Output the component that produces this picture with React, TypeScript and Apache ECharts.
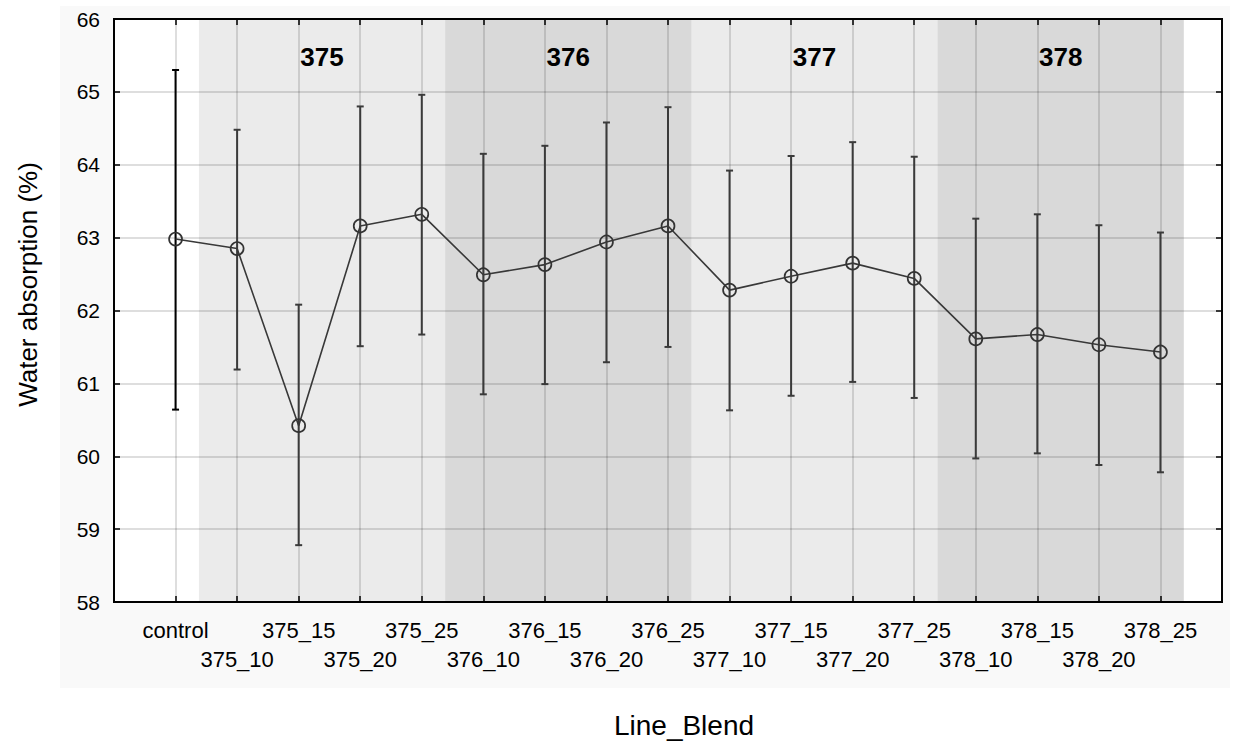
import React, { useEffect, useRef } from "react";
import * as echarts from "echarts";

// Line_Blend treatments and their water absorption (%) means with interval bounds
const categories = [
  "control",
  "375_10", "375_15", "375_20", "375_25",
  "376_10", "376_15", "376_20", "376_25",
  "377_10", "377_15", "377_20", "377_25",
  "378_10", "378_15", "378_20", "378_25",
];
const means = [
  62.98,
  62.85, 60.42, 63.16, 63.32,
  62.49, 62.63, 62.94, 63.16,
  62.28, 62.47, 62.65, 62.44,
  61.61, 61.67, 61.53, 61.43,
];
const lower = [
  60.64,
  61.19, 58.78, 61.51, 61.67,
  60.85, 60.99, 61.29, 61.50,
  60.63, 60.83, 61.02, 60.80,
  59.97, 60.04, 59.88, 59.78,
];
const upper = [
  65.30,
  64.48, 62.08, 64.80, 64.96,
  64.15, 64.26, 64.58, 64.79,
  63.92, 64.12, 64.31, 64.11,
  63.26, 63.32, 63.17, 63.07,
];
// Line groups shaded behind the points: [label, first index, last index]
const groups: [string, number, number][] = [
  ["375", 1, 4],
  ["376", 5, 8],
  ["377", 9, 12],
  ["378", 13, 16],
];
const yTicks = { min: 58, max: 66, step: 1 };

const FONT = "'Liberation Sans', Arial, sans-serif";

export default function App() {
  const ref = useRef<HTMLDivElement>(null);

  useEffect(() => {
    if (!ref.current) return;
    const chart = echarts.init(ref.current, null, { renderer: "svg" });

    const bandShift = 0.62;
    const markAreaData = groups.map(([name, a, b], gi) => [
      {
        name,
        xAxis: a - bandShift,
        itemStyle: { color: gi % 2 === 0 ? "rgba(0,0,0,0.08)" : "rgba(0,0,0,0.15)" },
      },
      { xAxis: b + 1 - bandShift },
    ]);

    const xLabel = (v: number) => {
      const i = Math.round(v);
      if (i < 0 || i >= categories.length) return "";
      return i % 2 === 0 ? categories[i] : "\n" + categories[i];
    };

    const tickStyle = { show: true, inside: true, length: 6, lineStyle: { color: "#000", width: 1.5 } };
    const noLine = { show: false, onZero: false };

    chart.setOption({
      animation: false,
      backgroundColor: "#ffffff",
      graphic: [
        {
          type: "rect",
          z: -10,
          shape: { x: 60, y: 6, width: 1170, height: 682 },
          style: { fill: "#f9f9f9" },
        },
      ],
      grid: {
        left: 114,
        top: 19,
        width: 1108,
        height: 584,
        show: true,
        backgroundColor: "#ffffff",
        borderColor: "#000",
        borderWidth: 2,
      },
      xAxis: [
        {
          type: "value",
          min: -1,
          max: categories.length,
          interval: 1,
          position: "bottom",
          axisLine: noLine,
          axisTick: tickStyle,
          splitLine: { show: true, lineStyle: { color: "rgba(0,0,0,0.13)", width: 2 } },
          axisLabel: {
            formatter: xLabel,
            color: "#000",
            fontFamily: FONT,
            fontSize: 22,
            lineHeight: 29,
            margin: 14,
          },
          name: "Line_Blend",
          nameLocation: "middle",
          nameGap: 109,
          nameTextStyle: { color: "#000", fontFamily: FONT, fontSize: 28, padding: [0, 0, 0, 32] },
        },
        {
          type: "value",
          min: -1,
          max: categories.length,
          interval: 1,
          position: "top",
          axisLine: noLine,
          axisTick: tickStyle,
          axisLabel: { show: false },
          splitLine: { show: false },
        },
      ],
      yAxis: [
        {
          type: "value",
          min: yTicks.min,
          max: yTicks.max,
          interval: yTicks.step,
          position: "left",
          axisLine: noLine,
          axisTick: tickStyle,
          splitLine: { show: true, lineStyle: { color: "rgba(0,0,0,0.13)", width: 2 } },
          axisLabel: { color: "#000", fontFamily: FONT, fontSize: 21, margin: 14 },
          name: "Water absorption (%)",
          nameLocation: "middle",
          nameGap: 73,
          nameTextStyle: { color: "#000", fontFamily: FONT, fontSize: 26, padding: [0, 0, 0, 52] },
        },
        {
          type: "value",
          min: yTicks.min,
          max: yTicks.max,
          interval: yTicks.step,
          position: "right",
          axisLine: noLine,
          axisTick: tickStyle,
          axisLabel: { show: false },
          splitLine: { show: false },
        },
      ],
      series: [
        {
          // shaded group bands with their titles
          type: "line",
          z: 1,
          data: [],
          silent: true,
          markArea: {
            silent: true,
            label: {
              show: true,
              position: ["50%", 38],
              align: "center",
              verticalAlign: "middle",
              color: "#000",
              fontFamily: FONT,
              fontWeight: "bold",
              fontSize: 26,
            },
            data: markAreaData,
          },
        },
        {
          // vertical interval bars with caps
          type: "custom",
          z: 3,
          data: means.map((_, i) => [i, lower[i], upper[i]]),
          encode: { x: 0, y: [1, 2] },
          renderItem: (_params: any, api: any) => {
            const x = api.value(0);
            const top = api.coord([x, api.value(2)]);
            const bot = api.coord([x, api.value(1)]);
            const stroke = x === 0 ? "#000" : "#3a3a3a";
            const capHalf = 3.5;
            const style = { stroke, lineWidth: 2 };
            return {
              type: "group",
              children: [
                { type: "line", shape: { x1: top[0], y1: top[1], x2: bot[0], y2: bot[1] }, style },
                { type: "line", shape: { x1: top[0] - capHalf, y1: top[1], x2: top[0] + capHalf, y2: top[1] }, style },
                { type: "line", shape: { x1: bot[0] - capHalf, y1: bot[1], x2: bot[0] + capHalf, y2: bot[1] }, style },
              ],
            };
          },
        },
        {
          type: "line",
          z: 4,
          data: means.map((m, i) => [i, m]),
          symbol: "circle",
          symbolSize: 13,
          lineStyle: { color: "#383838", width: 1.6 },
          itemStyle: { color: "rgba(0,0,0,0)", borderColor: "#333", borderWidth: 1.7 },
        },
      ],
    });

    return () => chart.dispose();
  }, []);

  return (
    <div
      ref={ref}
      style={{ position: "fixed", left: 0, top: 0, width: 1240, height: 744 }}
    />
  );
}
